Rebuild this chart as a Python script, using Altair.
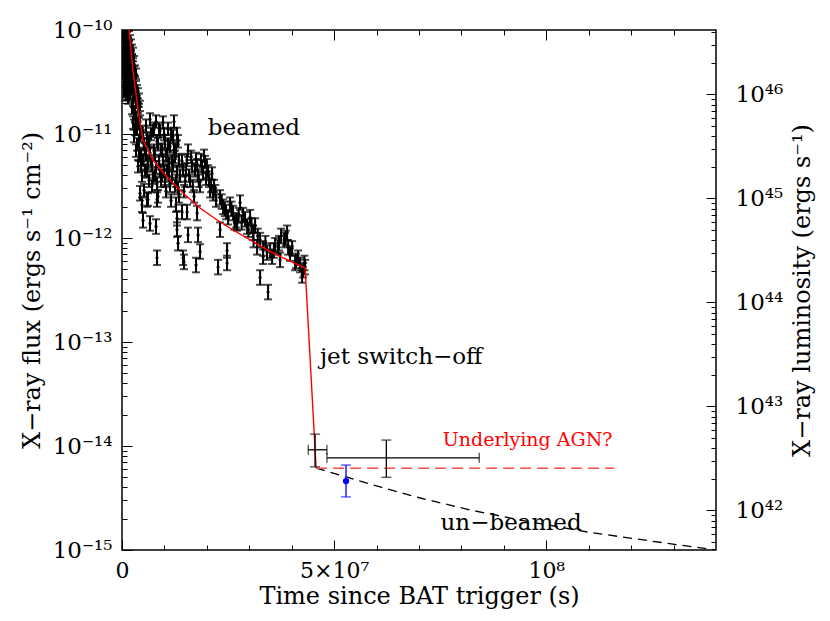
import altair as alt
import pandas as pd
import numpy as np

# ---------------- data ----------------
# XRT light curve: (time in 1e6 s, log10 flux) ; half error bar in dex per group
early = [(0.24,-9.95),(0.71,-9.92),(1.18,-9.97),
         (0.24,-10.05),(0.24,-10.21),(0.47,-10.12),(0.47,-10.33),(0.47,-10.50),(0.71,-10.00),(0.71,-10.16),
         (0.71,-10.40),(0.71,-10.58),(0.94,-10.08),(0.94,-10.26),(0.94,-10.45),(0.94,-10.63),(1.18,-10.13),
         (1.18,-10.31),(1.18,-10.54),(1.42,-10.03),(1.42,-10.21),(1.42,-10.38),(1.42,-10.66),(1.65,-10.15),
         (1.65,-10.50),(1.89,-10.10),(1.89,-10.31),(1.89,-10.61),(2.12,-10.25),(2.12,-10.44),(2.36,-10.19),
         (2.36,-10.57),(2.59,-10.35),(2.59,-10.68),(2.83,-10.48),(3.07,-10.39),(3.07,-10.63),(3.30,-10.54),
         (3.54,-10.70),(3.77,-10.61),(4.01,-10.79),(4.25,-10.73),
         (0.24,-10.30),(0.24,-10.40),(0.47,-10.02),(0.47,-10.22),(0.47,-10.42),(0.47,-10.60),(0.71,-10.28),
         (0.71,-10.50),(0.94,-10.18),(0.94,-10.36),(0.94,-10.55),(1.18,-10.22),(1.18,-10.42),(1.18,-10.62),
         (1.42,-10.12),(1.42,-10.30),(1.42,-10.50),(1.65,-10.06),(1.65,-10.25),(1.65,-10.40),(1.65,-10.60),
         (1.89,-10.20),(1.89,-10.42),(1.89,-10.52),(2.12,-10.14),(2.12,-10.35),(2.12,-10.55),(2.36,-10.28),
         (2.36,-10.45),(2.59,-10.22),(2.59,-10.52),(2.83,-10.30),(2.83,-10.62),(3.07,-10.50),(3.30,-10.42),
         (3.30,-10.68),(3.54,-10.58),(3.77,-10.75),(4.01,-10.66)]
early_err = 0.05

flare = [(2.36,-10.75),(2.59,-10.89),(2.83,-11.02),(3.07,-10.81),(3.30,-11.16),(3.54,-10.95),(3.77,-11.31),
         (4.01,-11.07),(4.25,-10.88),(4.48,-11.21),(4.72,-11.40),(4.95,-11.02),(5.19,-11.54),(5.42,-11.15),
         (5.66,-10.92),(5.90,-11.36),(6.13,-11.63),(6.37,-11.07),(6.60,-10.86),(6.84,-11.26),(7.08,-11.50),
         (7.31,-10.97),(7.55,-11.16),(7.78,-11.40),(8.02,-10.88),(8.25,-11.07),(8.49,-11.60),(8.73,-11.26),
         (8.96,-10.97),(9.20,-11.45),(9.43,-11.16),(9.67,-10.89),(9.91,-11.36),(10.14,-11.07),(10.38,-11.55),
         (10.61,-11.21),(10.85,-10.95),(11.08,-11.40),(11.32,-11.12),(11.56,-11.64),(11.79,-11.26),
         (12.03,-11.02),(12.26,-10.88),(12.50,-11.50),(12.74,-11.16),(12.97,-11.36),(13.21,-11.07),(13.44,-11.60),
         (2.83,-10.80),(3.07,-10.95),(3.30,-10.85),(3.54,-11.10),(3.77,-10.90),(4.01,-11.20),(4.25,-11.00),
         (4.48,-11.30),(4.72,-10.98),(4.95,-11.25),(5.19,-11.10),(5.42,-11.35),(5.66,-11.20),(5.90,-11.05),
         (6.13,-11.28),(6.37,-11.45),(6.60,-11.18),(6.84,-11.00),(7.08,-11.30),(7.31,-11.42),(7.55,-10.95),
         (7.78,-11.20),(8.02,-11.32),(8.25,-11.48),(8.49,-11.10),(8.73,-10.95),(8.96,-11.35),(9.20,-11.15),
         (9.43,-11.40),(9.67,-11.25),(9.91,-11.00),(10.14,-11.45),(10.38,-11.20),(10.61,-11.35),(10.85,-11.10),
         (11.08,-11.28),(11.32,-11.50),(11.56,-11.00),(11.79,-11.42),(12.03,-11.30),(12.26,-11.15),
         (12.50,-11.22),(12.74,-11.45),(12.97,-11.00),(13.21,-11.52),(13.44,-11.25),
         (13.68,-11.40),(14.15,-11.26),(14.62,-11.55),(15.09,-11.34),(15.57,-11.16),(16.04,-11.45),(16.51,-11.31),
         (16.98,-11.60),(17.45,-11.24),(17.92,-11.40),(18.40,-11.50),(18.87,-11.31),(19.34,-11.21),(19.58,-11.27),
         (19.81,-11.43),(20.28,-11.36),(20.75,-11.55),(21.23,-11.38),(21.70,-11.50),(22.17,-11.64),
         (14.4,-11.35),(14.9,-11.45),(15.3,-11.25),(15.8,-11.40),(16.3,-11.22),(16.7,-11.50),(17.2,-11.35),
         (17.7,-11.30),(18.1,-11.45),(18.6,-11.25),(19.1,-11.38),(20.0,-11.30),(20.5,-11.45),(21.0,-11.50),
         (21.5,-11.58),(22.0,-11.55)]
flare_err = 0.06

dips = [(4.25,-11.57),(4.72,-11.68),(4.95,-11.83),(5.90,-11.63),(6.60,-11.86),(8.02,-11.89),(8.25,-11.63),
        (8.25,-12.19),(12.74,-11.68),(12.97,-11.81),(12.97,-11.92),(13.21,-12.05),(14.15,-11.75),(14.39,-12.19),
        (14.62,-12.23),(15.33,-11.75),(15.57,-11.97),(17.45,-12.26),(17.69,-11.76),(17.92,-11.97),(18.40,-12.13),
        (22.64,-12.28),(23.11,-11.92),(24.76,-12.12),(24.76,-12.24)]
dips_err = 0.07

late = [(23.11,-11.61),(23.82,-11.70),(24.53,-11.75),(25.47,-11.68),(26.18,-11.76),(26.89,-11.83),(27.83,-11.66),
        (27.12,-11.86),(28.54,-11.78),(29.48,-11.89),(30.19,-11.80),(30.90,-11.95),(31.37,-11.88),(31.84,-12.09),
        (32.55,-12.02),(33.25,-12.10),(33.25,-12.18),(34.20,-12.14),(34.91,-12.12),(35.38,-12.18),(36.09,-12.07),
        (36.79,-12.09),(37.50,-11.98),(38.21,-12.02),(38.92,-11.95),(39.15,-12.09),(40.09,-12.10),(37.26,-12.21),
        (40.80,-12.24),(41.51,-12.19),(41.98,-12.26),(42.69,-12.31),(43.16,-12.28),(42.45,-12.36),(32.55,-12.38),
        (34.43,-12.52),
        (23.5,-11.65),(24.2,-11.72),(25.0,-11.80),(25.8,-11.72),(26.5,-11.85),(27.5,-11.78),(28.2,-11.85),
        (29.0,-11.82),(29.8,-11.92),(30.5,-11.88),(31.0,-12.02),(32.0,-11.98),(33.8,-12.05),(35.8,-12.12),
        (37.0,-12.05),(38.6,-12.00),(39.6,-12.15),(41.0,-12.22),(43.0,-12.24)]
late_err = 0.07

# late-time detections (time in 1e6 s, flux)
det_t = [45.5, 62.3]
det_t_lo = [43.9, 48.3]
det_t_hi = [48.3, 84.2]
det_f = [9.2e-15, 7.7e-15]
det_f_lo = [6.3e-15, 5.0e-15]
det_f_hi = [1.30e-14, 1.14e-14]

blue_t = [52.8]
blue_f = [4.6e-15]
blue_f_lo = [3.24e-15]
blue_f_hi = [6.56e-15]

# beamed model (time in 1e6 s, log10 flux)
model_t = [1.18, 1.65, 2.59, 3.77, 4.95, 7.31, 10.61, 14.38, 18.39, 22.40, 26.17, 30.19, 34.20, 37.97, 43.16, 45.75]
model_logf = [-9.90, -10.00, -10.385, -10.769, -11.058, -11.25, -11.413, -11.567, -11.712, -11.827, -11.923,
              -12.019, -12.115, -12.192, -12.288, -14.212]

# un-beamed decay (time in 1e6 s, log10 flux)
unb_t = [45.75, 52.83, 60.85, 70.28, 82.07, 93.87, 109.67, 124.53, 140.09]
unb_logf = [-14.212, -14.298, -14.394, -14.50, -14.615, -14.712, -14.827, -14.913, -15.0]

# underlying AGN level
agn_t = [45.75, 116.0]
agn_f = 6.1e-15

# annotations
ann_text = ["beamed", "jet switch\u2212off", "Underlying AGN?", "un\u2212beamed"]
ann_t = [31.1, 65.8, 95.6, 91.7]
ann_f = [1.14e-11, 7.2e-14, 1.14e-14, 1.82e-15]
ann_col = ["black", "black", "#ff0000", "black"]
ann_size = [23, 23, 19, 23]

LOGK = 56.62   # log10(4 pi d_L^2)

# ---------------- tables ----------------
rows = []
for grp, err in [(early, early_err), (flare, flare_err), (dips, dips_err), (late, late_err)]:
    for t, lf in grp:
        rows.append({"t": t * 1e6, "flux": 10 ** lf, "lo": 10 ** (lf - err), "hi": 10 ** (lf + err)})
lc = pd.DataFrame(rows)

det = pd.DataFrame({"t": np.array(det_t) * 1e6, "tlo": np.array(det_t_lo) * 1e6, "thi": np.array(det_t_hi) * 1e6,
                    "flux": det_f, "lo": det_f_lo, "hi": det_f_hi})
blue = pd.DataFrame({"t": np.array(blue_t) * 1e6, "flux": blue_f, "lo": blue_f_lo, "hi": blue_f_hi})
model = pd.DataFrame({"t": np.array(model_t) * 1e6, "flux": 10 ** np.array(model_logf)})
unb = pd.DataFrame({"t": np.array(unb_t) * 1e6, "flux": 10 ** np.array(unb_logf)})
agn = pd.DataFrame({"t": [agn_t[0] * 1e6], "t2": [agn_t[1] * 1e6], "flux": [agn_f]})
ann = pd.DataFrame({"t": np.array(ann_t) * 1e6, "flux": ann_f, "label": ann_text, "col": ann_col, "fs": ann_size})

FONT = "DejaVu Serif"
xs = alt.Scale(domain=[0, 1.4e8], nice=False, zero=False)
ys = alt.Scale(type="log", domain=[1e-15, 1e-10], nice=False)
ls = alt.Scale(type="log", domain=[10 ** (-15 + LOGK), 10 ** (-10 + LOGK)], nice=False)


def X(f, axis=None):
    return alt.X(f, type="quantitative", scale=xs, axis=axis)


def Y(f, axis=None, scale=ys):
    return alt.Y(f, type="quantitative", scale=scale, axis=axis)


LW = 2.0
base_lc = alt.Chart(lc)
lc_rule = base_lc.mark_rule(color="black", strokeWidth=LW, clip=True).encode(x=X("t"), y=Y("lo"), y2="hi")
lc_cap1 = base_lc.mark_tick(orient="horizontal", size=8, thickness=LW, color="black", clip=True).encode(x=X("t"), y=Y("lo"))
lc_cap2 = base_lc.mark_tick(orient="horizontal", size=8, thickness=LW, color="black", clip=True).encode(x=X("t"), y=Y("hi"))
lc_pt = base_lc.mark_point(filled=True, size=10, color="black", opacity=1, clip=True).encode(x=X("t"), y=Y("flux"))

model_line = alt.Chart(model).mark_line(color="#ff0000", strokeWidth=1.4, clip=True).encode(x=X("t"), y=Y("flux"))
unb_line = alt.Chart(unb).mark_line(color="black", strokeWidth=1.3, strokeDash=[9, 6], clip=True).encode(x=X("t"), y=Y("flux"))
agn_line = alt.Chart(agn).mark_rule(color="#ff4d4d", strokeWidth=1.5, strokeDash=[11, 6]).encode(x=X("t"), x2="t2", y=Y("flux"))

bd = alt.Chart(det)
det_v = bd.mark_rule(color="black", strokeWidth=1.3).encode(x=X("t"), y=Y("lo"), y2="hi")
det_h = bd.mark_rule(color="black", strokeWidth=1.3).encode(x=X("tlo"), x2="thi", y=Y("flux"))
det_c1 = bd.mark_tick(orient="horizontal", size=10, thickness=1.3, color="black").encode(x=X("t"), y=Y("lo"))
det_c2 = bd.mark_tick(orient="horizontal", size=10, thickness=1.3, color="black").encode(x=X("t"), y=Y("hi"))
det_c3 = bd.mark_tick(orient="vertical", size=10, thickness=1.3, color="black").encode(x=X("tlo"), y=Y("flux"))
det_c4 = bd.mark_tick(orient="vertical", size=10, thickness=1.3, color="black").encode(x=X("thi"), y=Y("flux"))

bb = alt.Chart(blue)
blue_v = bb.mark_rule(color="#2020ff", strokeWidth=1.5).encode(x=X("t"), y=Y("lo"), y2="hi")
blue_c1 = bb.mark_tick(orient="horizontal", size=10, thickness=1.5, color="#2020ff").encode(x=X("t"), y=Y("lo"))
blue_c2 = bb.mark_tick(orient="horizontal", size=10, thickness=1.5, color="#2020ff").encode(x=X("t"), y=Y("hi"))
blue_p = bb.mark_point(filled=True, size=40, color="#0000ff", opacity=1).encode(x=X("t"), y=Y("flux"))

texts = alt.Chart(ann).mark_text(font=FONT, align="center", baseline="middle").encode(
    x=X("t"), y=Y("flux"), text="label:N", color=alt.Color("col:N", scale=None),
    size=alt.Size("fs:Q", scale=None))

# ---------------- axes (inward ticks via negative offset) ----------------
common = dict(domain=False, grid=False, tickColor="black", tickWidth=1, labelFont=FONT, labelFontSize=23,
              labelColor="black", titleFont=FONT, titleFontSize=24, titleFontWeight="normal", titleColor="black")
common_x = {k: v for k, v in common.items() if k != "labelFontSize"}

SUP = {"-": "\u207b", "0": "\u2070", "1": "\u00b9", "2": "\u00b2", "3": "\u00b3", "4": "\u2074",
       "5": "\u2075", "6": "\u2076", "7": "\u2077", "8": "\u2078", "9": "\u2079"}


def sup(n):
    return "".join(SUP[c] for c in str(n))


def decade_expr(exps):
    e = "''"
    for p in exps:
        e = f"(abs(log(datum.value)/LN10 - ({p})) < 0.01) ? '10{sup(p)}' : " + e
    return e


flux_major = [10.0 ** p for p in range(-15, -9)]
flux_minor = [k * 10.0 ** p for p in range(-15, -10) for k in range(2, 10)]
lum_major = [10.0 ** p for p in range(42, 47)]
lum_minor = [k * 10.0 ** p for p in range(41, 47) for k in range(2, 10)
             if 10 ** (-15 + LOGK) < k * 10.0 ** p < 10 ** (-10 + LOGK)]
x_major = [0, 5e7, 1e8]
x_minor = [k * 1e7 for k in range(1, 14) if k not in (5, 10)]

MAJ, MIN = 10, 5

ax_df = pd.DataFrame({"t": [1e7], "flux": [1e-12], "lum": [1e44]})
ax_base = alt.Chart(ax_df).mark_point(opacity=0)

ax1 = ax_base.encode(
    x=X("t", alt.Axis(orient="bottom", values=x_major, offset=-MAJ, tickSize=MAJ, labelPadding=10,
                      labelFlush=False, labelFontSize=22,
                      labelExpr="datum.value == 0 ? '0' : (datum.value == 5e7 ? '5\u00d710\u2077' : '10\u2078')",
                      title="Time since BAT trigger (s)", titlePadding=3, **common_x)),
    y=Y("flux", alt.Axis(orient="left", values=flux_major, offset=-MAJ, tickSize=MAJ, labelPadding=10,
                         labelExpr=decade_expr(range(-15, -9)),
                         title="X\u2212ray flux (ergs s\u207b\u00b9 cm\u207b\u00b2)", titlePadding=8, **common)))
ax2 = ax_base.encode(
    x=X("t", alt.Axis(orient="bottom", values=x_minor, offset=-MIN, tickSize=MIN, labels=False, title=None, **common)),
    y=Y("flux", alt.Axis(orient="left", values=flux_minor, offset=-MIN, tickSize=MIN, labels=False, title=None, **common)))
ax3 = ax_base.encode(
    x=X("t", alt.Axis(orient="top", values=x_major, offset=-MAJ, tickSize=MAJ, labels=False, title=None, **common)),
    y=Y("lum", alt.Axis(orient="right", values=lum_major, offset=-MAJ, tickSize=MAJ, labelPadding=19,
                        labelExpr=decade_expr(range(42, 47)),
                        title="X\u2212ray luminosity (ergs s\u207b\u00b9)", titleAngle=270, titleBaseline="top",
                        titlePadding=8, **common), scale=ls))
ax4 = ax_base.encode(
    x=X("t", alt.Axis(orient="top", values=x_minor, offset=-MIN, tickSize=MIN, labels=False, title=None, **common)),
    y=Y("lum", alt.Axis(orient="right", values=lum_minor, offset=-MIN, tickSize=MIN, labels=False, title=None,
                        **common), scale=ls))

chart = alt.layer(
    lc_rule, lc_cap1, lc_cap2, lc_pt, model_line, unb_line, agn_line,
    det_v, det_h, det_c1, det_c2, det_c3, det_c4,
    blue_v, blue_c1, blue_c2, blue_p, texts,
    ax1, ax2, ax3, ax4,
).resolve_scale(y="independent").resolve_axis(x="independent", y="independent").properties(
    width=594, height=520,
    autosize=alt.AutoSizeParams(type="none"),
    padding={"left": 114, "top": 22, "right": 106, "bottom": 63},
    background="white",
).configure_view(stroke="black", strokeWidth=1.5)

chart.save("out.html", embed_options={"renderer": "svg", "actions": False})
